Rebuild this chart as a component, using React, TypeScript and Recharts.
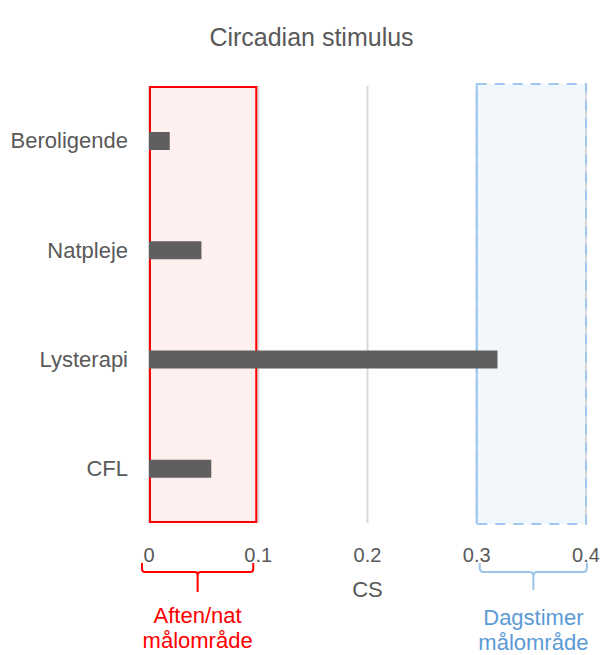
import { BarChart, Bar, XAxis, YAxis, CartesianGrid, ReferenceArea } from 'recharts';

const categories = ['Beroligende', 'Natpleje', 'Lysterapi', 'CFL'];
const csValues = [0.019, 0.048, 0.319, 0.057];
const xTicks = [0, 0.1, 0.2, 0.3, 0.4];
const eveningZone = [0, 0.1];
const dayZone = [0.3, 0.4];
const eveningLabel = ['Aften/nat', 'målområde'];
const dayLabel = ['Dagstimer', 'målområde'];

const data = categories.map((name, i) => ({ name, cs: csValues[i] }));

const FONT = '"Liberation Sans", Arial, sans-serif';
const TEXT = '#595959';
const RED = '#ff0000';
const BLUE_LINE = '#9dc3e6';
const BLUE_TEXT = '#5b9bd5';

// simple squared-off curly bracket, stem in the middle
function bracket(x0: number, x1: number, yTop: number, yMid: number, yStem: number, r: number) {
  const cx = (x0 + x1) / 2;
  return (
    `M${x0},${yTop} V${yMid - r} Q${x0},${yMid} ${x0 + r},${yMid} H${cx - r} Q${cx},${yMid} ${cx},${yMid + r} V${yStem} ` +
    `M${x1},${yTop} V${yMid - r} Q${x1},${yMid} ${x1 - r},${yMid} H${cx + r} Q${cx},${yMid} ${cx},${yMid + r}`
  );
}

function EveningZone(props: any) {
  const { x, y, width, height } = props;
  const bottom = y + height;
  const x0 = x - 7;
  const x1 = x + width - 5;
  const cx = (x0 + x1) / 2;
  return (
    <g>
      <rect x={x + 1} y={y + 1} width={width - 3} height={height - 2} fill={RED} fillOpacity={0.06} stroke={RED} strokeWidth={2} />
      <path d={bracket(x0, x1, bottom + 40, bottom + 49, bottom + 69, 3)} stroke={RED} strokeWidth={2} fill="none" />
      <text x={cx} y={bottom + 100} textAnchor="middle" fill={RED} fontSize={22} fontFamily={FONT}>{eveningLabel[0]}</text>
      <text x={cx} y={bottom + 125} textAnchor="middle" fill={RED} fontSize={22} fontFamily={FONT}>{eveningLabel[1]}</text>
    </g>
  );
}

function DayZone(props: any) {
  const { x, y, width, height } = props;
  const bottom = y + height;
  const x0 = x + 3;
  const x1 = x + width + 1;
  const cx = (x0 + x1) / 2;
  return (
    <g>
      <rect x={x} y={y - 2} width={width} height={height + 3} fill="#5b9bd5" fillOpacity={0.08} stroke="#9ec8f2" strokeWidth={2} strokeDasharray="10 8" />
      <line x1={x} x2={x} y1={y - 2} y2={bottom + 1} stroke="#9ec8f2" strokeWidth={2} />
      <path d={bracket(x0, x1, bottom + 40, bottom + 49, bottom + 67, 4)} stroke={BLUE_LINE} strokeWidth={2} fill="none" />
      <text x={cx} y={bottom + 102} textAnchor="middle" fill={BLUE_TEXT} fontSize={22} fontFamily={FONT}>{dayLabel[0]}</text>
      <text x={cx} y={bottom + 127} textAnchor="middle" fill={BLUE_TEXT} fontSize={22} fontFamily={FONT}>{dayLabel[1]}</text>
    </g>
  );
}

export default function App() {
  return (
    <div style={{ position: 'absolute', left: 0, top: 0, width: 603, height: 655, background: '#fff', fontFamily: FONT }}>
      <div style={{ position: 'absolute', left: 0, top: 25, width: 623, textAlign: 'center', fontSize: 25, lineHeight: '25px', color: TEXT }}>
        Circadian stimulus
      </div>
      <BarChart
        width={603}
        height={655}
        data={data}
        layout="vertical"
        margin={{ top: 86, right: 17, bottom: 0, left: 0 }}
      >
        <CartesianGrid horizontal={false} stroke="#d9d9d9" strokeWidth={2} />
        <XAxis
          type="number"
          domain={[0, 0.4]}
          ticks={xTicks}
          height={132}
          axisLine={false}
          tickLine={false}
          tickSize={0}
          tickMargin={25}
          tick={{ fill: TEXT, fontSize: 20, fontFamily: FONT }}
          label={{ value: 'CS', position: 'insideTop', offset: 58, fill: TEXT, fontSize: 22, fontFamily: FONT }}
        />
        <YAxis
          type="category"
          dataKey="name"
          width={149}
          axisLine={false}
          tickLine={false}
          tickSize={0}
          tickMargin={21}
          tick={{ fill: TEXT, fontSize: 22, fontFamily: FONT }}
        />
        <Bar dataKey="cs" fill="#5f5f5f" barSize={18} isAnimationActive={false} />
        <ReferenceArea x1={eveningZone[0]} x2={eveningZone[1]} shape={<EveningZone />} />
        <ReferenceArea x1={dayZone[0]} x2={dayZone[1]} shape={<DayZone />} />
      </BarChart>
    </div>
  );
}
